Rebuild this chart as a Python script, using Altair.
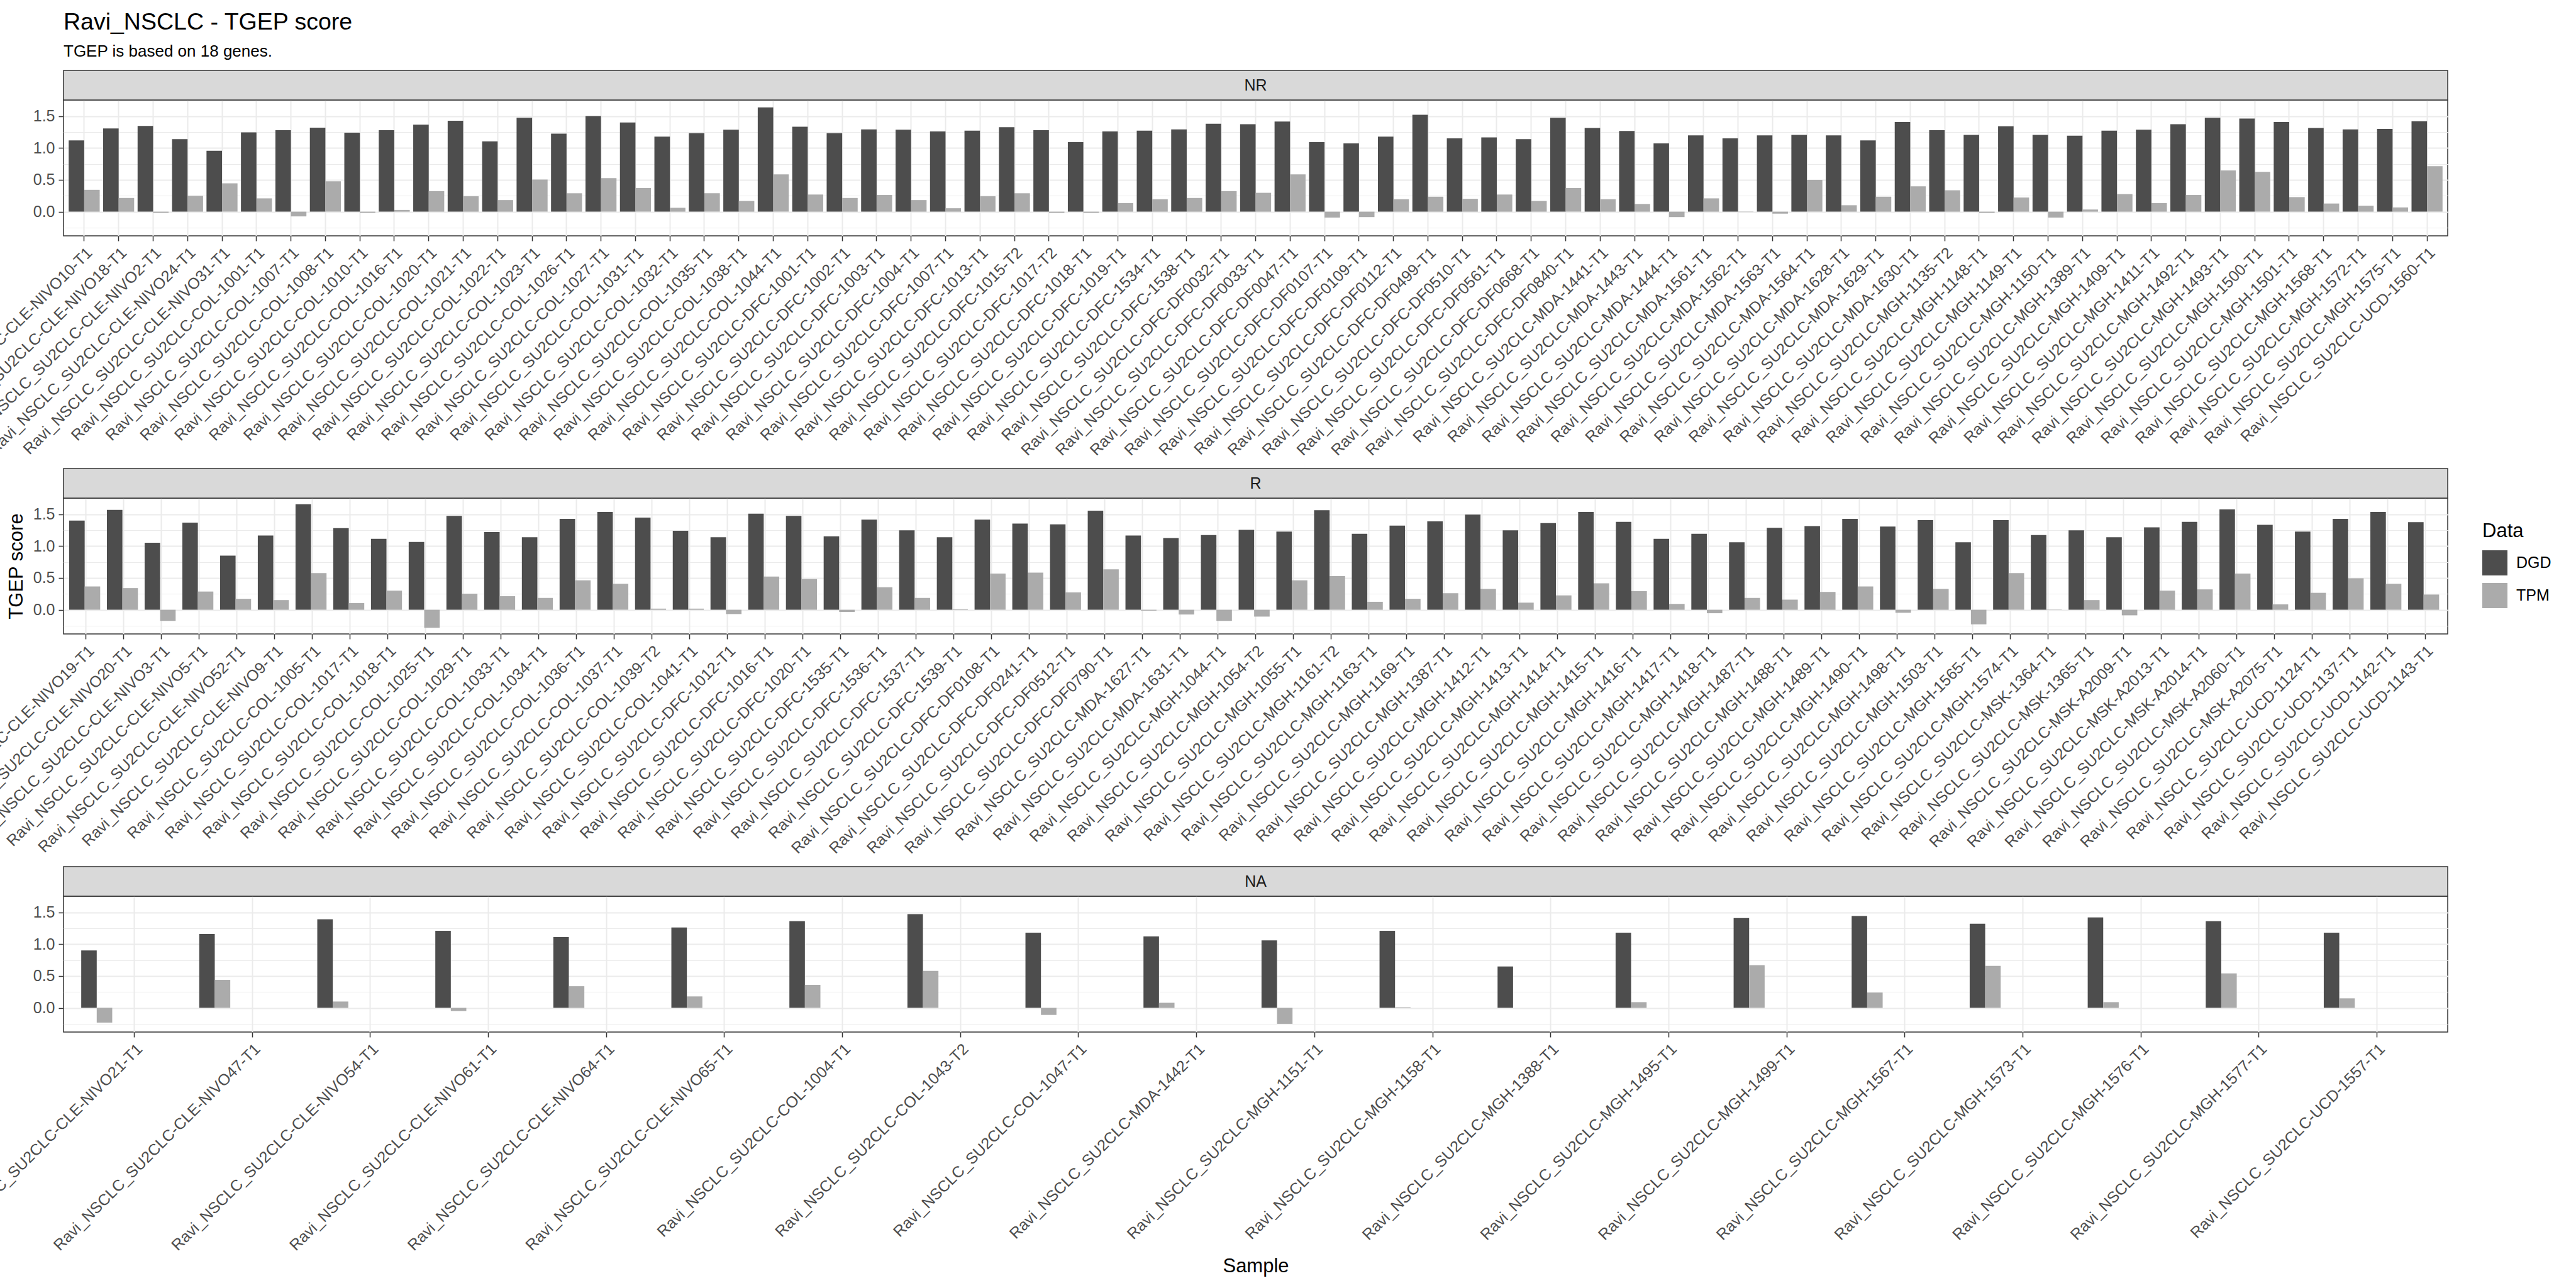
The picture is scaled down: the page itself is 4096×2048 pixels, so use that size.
import altair as alt
import pandas as pd

PREFIX = "Ravi_NSCLC_SU2CLC-"

# ---------------- data ----------------
nr_ids = ["CLE-NIVO10-T1", "CLE-NIVO18-T1", "CLE-NIVO2-T1", "CLE-NIVO24-T1", "CLE-NIVO31-T1",
          "COL-1001-T1", "COL-1007-T1", "COL-1008-T1", "COL-1010-T1", "COL-1016-T1", "COL-1020-T1",
          "COL-1021-T1", "COL-1022-T1", "COL-1023-T1", "COL-1026-T1", "COL-1027-T1", "COL-1031-T1",
          "COL-1032-T1", "COL-1035-T1", "COL-1038-T1", "COL-1044-T1", "DFC-1001-T1", "DFC-1002-T1",
          "DFC-1003-T1", "DFC-1004-T1", "DFC-1007-T1", "DFC-1013-T1", "DFC-1015-T2", "DFC-1017-T2",
          "DFC-1018-T1", "DFC-1019-T1", "DFC-1534-T1", "DFC-1538-T1", "DFC-DF0032-T1", "DFC-DF0033-T1",
          "DFC-DF0047-T1", "DFC-DF0107-T1", "DFC-DF0109-T1", "DFC-DF0112-T1", "DFC-DF0499-T1",
          "DFC-DF0510-T1", "DFC-DF0561-T1", "DFC-DF0668-T1", "DFC-DF0840-T1", "MDA-1441-T1",
          "MDA-1443-T1", "MDA-1444-T1", "MDA-1561-T1", "MDA-1562-T1", "MDA-1563-T1", "MDA-1564-T1",
          "MDA-1628-T1", "MDA-1629-T1", "MDA-1630-T1", "MGH-1135-T2", "MGH-1148-T1", "MGH-1149-T1",
          "MGH-1150-T1", "MGH-1389-T1", "MGH-1409-T1", "MGH-1411-T1", "MGH-1492-T1", "MGH-1493-T1",
          "MGH-1500-T1", "MGH-1501-T1", "MGH-1568-T1", "MGH-1572-T1", "MGH-1575-T1", "UCD-1560-T1"]
nr_dgd = [1.117, 1.305, 1.345, 1.137, 0.955, 1.244, 1.278, 1.318, 1.238, 1.278, 1.365, 1.426,
          1.103, 1.473, 1.224, 1.500, 1.399, 1.177, 1.231, 1.285, 1.635, 1.332, 1.231, 1.291,
          1.285, 1.258, 1.271, 1.325, 1.278, 1.090, 1.258, 1.271, 1.291, 1.379, 1.372, 1.413,
          1.090, 1.070, 1.177, 1.520, 1.150, 1.164, 1.137, 1.473, 1.312, 1.265, 1.070, 1.197,
          1.150, 1.197, 1.204, 1.197, 1.117, 1.406, 1.278, 1.204, 1.339, 1.204, 1.191, 1.271,
          1.285, 1.372, 1.473, 1.460, 1.406, 1.312, 1.291, 1.298, 1.419]
nr_tpm = [0.343, 0.215, -0.018, 0.249, 0.444, 0.209, -0.074, 0.478, -0.018, 0.027, 0.323, 0.242,
          0.182, 0.504, 0.289, 0.525, 0.370, 0.061, 0.289, 0.168, 0.585, 0.269, 0.215, 0.262,
          0.182, 0.054, 0.242, 0.289, -0.018, -0.018, 0.135, 0.195, 0.215, 0.323, 0.296, 0.585,
          -0.092, -0.085, 0.195, 0.235, 0.202, 0.269, 0.168, 0.370, 0.195, 0.121, -0.085, 0.209,
          -0.005, -0.031, 0.498, 0.101, 0.235, 0.397, 0.336, -0.018, 0.222, -0.092, 0.034, 0.276,
          0.135, 0.262, 0.646, 0.626, 0.229, 0.128, 0.094, 0.067, 0.713]

r_ids = ["CLE-NIVO19-T1", "CLE-NIVO20-T1", "CLE-NIVO3-T1", "CLE-NIVO5-T1", "CLE-NIVO52-T1",
         "CLE-NIVO9-T1", "COL-1005-T1", "COL-1017-T1", "COL-1018-T1", "COL-1025-T1", "COL-1029-T1",
         "COL-1033-T1", "COL-1034-T1", "COL-1036-T1", "COL-1037-T1", "COL-1039-T2", "COL-1041-T1",
         "DFC-1012-T1", "DFC-1016-T1", "DFC-1020-T1", "DFC-1535-T1", "DFC-1536-T1", "DFC-1537-T1",
         "DFC-1539-T1", "DFC-DF0108-T1", "DFC-DF0241-T1", "DFC-DF0512-T1", "DFC-DF0790-T1",
         "MDA-1627-T1", "MDA-1631-T1", "MGH-1044-T1", "MGH-1054-T2", "MGH-1055-T1", "MGH-1161-T2",
         "MGH-1163-T1", "MGH-1169-T1", "MGH-1387-T1", "MGH-1412-T1", "MGH-1413-T1", "MGH-1414-T1",
         "MGH-1415-T1", "MGH-1416-T1", "MGH-1417-T1", "MGH-1418-T1", "MGH-1487-T1", "MGH-1488-T1",
         "MGH-1489-T1", "MGH-1490-T1", "MGH-1498-T1", "MGH-1503-T1", "MGH-1565-T1", "MGH-1574-T1",
         "MSK-1364-T1", "MSK-1365-T1", "MSK-A2009-T1", "MSK-A2013-T1", "MSK-A2014-T1",
         "MSK-A2060-T1", "MSK-A2075-T1", "UCD-1124-T1", "UCD-1137-T1", "UCD-1142-T1", "UCD-1143-T1"]
r_dgd = [1.400, 1.568, 1.051, 1.367, 0.850, 1.166, 1.655, 1.280, 1.112, 1.065, 1.474, 1.219,
         1.139, 1.427, 1.535, 1.447, 1.239, 1.139, 1.508, 1.474, 1.152, 1.414, 1.246, 1.139,
         1.414, 1.353, 1.340, 1.555, 1.166, 1.125, 1.172, 1.253, 1.226, 1.562, 1.192, 1.320,
         1.387, 1.494, 1.246, 1.360, 1.535, 1.380, 1.112, 1.192, 1.058, 1.286, 1.313, 1.427,
         1.306, 1.407, 1.058, 1.407, 1.172, 1.246, 1.139, 1.293, 1.380, 1.575, 1.333, 1.226,
         1.427, 1.535, 1.374]
r_tpm = [0.367, 0.340, -0.174, 0.286, 0.172, 0.152, 0.575, 0.105, 0.300, -0.282, 0.253, 0.213,
         0.186, 0.461, 0.407, 0.018, 0.018, -0.067, 0.521, 0.481, -0.034, 0.353, 0.186, 0.011,
         0.568, 0.582, 0.273, 0.635, -0.013, -0.074, -0.174, -0.107, 0.461, 0.528, 0.125, 0.172,
         0.260, 0.327, 0.112, 0.226, 0.414, 0.293, 0.092, -0.054, 0.186, 0.159, 0.280, 0.367,
         -0.047, 0.327, -0.228, 0.575, 0.005, 0.152, -0.087, 0.300, 0.320, 0.568, 0.085, 0.266,
         0.494, 0.407, 0.239]

na_ids = ["CLE-NIVO21-T1", "CLE-NIVO47-T1", "CLE-NIVO54-T1", "CLE-NIVO61-T1", "CLE-NIVO64-T1",
          "CLE-NIVO65-T1", "COL-1004-T1", "COL-1043-T2", "COL-1047-T1", "MDA-1442-T1",
          "MGH-1151-T1", "MGH-1158-T1", "MGH-1388-T1", "MGH-1495-T1", "MGH-1499-T1",
          "MGH-1567-T1", "MGH-1573-T1", "MGH-1576-T1", "MGH-1577-T1", "UCD-1557-T1"]
na_dgd = [0.90, 1.16, 1.39, 1.21, 1.11, 1.26, 1.36, 1.47, 1.18, 1.12, 1.06, 1.21, 0.65, 1.18,
          1.41, 1.44, 1.32, 1.42, 1.36, 1.18]
na_tpm = [-0.23, 0.44, 0.10, -0.05, 0.34, 0.18, 0.36, 0.58, -0.11, 0.08, -0.25, 0.01, 0.0, 0.09,
          0.67, 0.24, 0.66, 0.09, 0.54, 0.15]

panels = [("NR", nr_ids, nr_dgd, nr_tpm),
          ("R", r_ids, r_dgd, r_tpm),
          ("NA", na_ids, na_dgd, na_tpm)]
series = ["DGD", "TPM"]
series_colors = ["#4D4D4D", "#ABABAB"]

# ---------------- layout (output pixels) ----------------
W = 3791
H = 216
SH = 47
FONT = "Liberation Sans"

all_vals = nr_dgd + nr_tpm + r_dgd + r_tpm + na_dgd + na_tpm
lo, hi = min(all_vals), max(all_vals)
ext = (hi - lo) * 0.05
y_domain = [lo - ext, hi + ext]
y_values = [-0.25, 0, 0.25, 0.5, 0.75, 1, 1.25, 1.5]
minor_test = "(datum.value * 2) % 1 != 0"

legend = alt.Legend(title="Data", orient="none", legendX=3846, legendY=671,
                    symbolType="square", symbolSize=1600, symbolStrokeWidth=0,
                    titleFontSize=31, labelFontSize=25, titleFontWeight="normal",
                    titleColor="#000000", labelColor="#000000", labelOffset=14,
                    rowPadding=12, titlePadding=14, titleFont=FONT, labelFont=FONT)


def make_panel(name, ids, dgd, tpm, show_ytitle, show_xtitle):
    samples = [PREFIX + s for s in ids]
    rows = []
    for s, a, b in zip(samples, dgd, tpm):
        rows.append({"Sample": s, "Data": "DGD", "TGEP score": a})
        rows.append({"Sample": s, "Data": "TPM", "TGEP score": b})
    df = pd.DataFrame(rows)

    x_axis_kw = dict(labelAngle=-45, labelAlign="right", labelBaseline="top",
                     labelPadding=6, labelLimit=2000, labelOverlap=False,
                     labelFontSize=25, labelColor="#4D4D4D", labelFont=FONT,
                     tickSize=8, tickColor="#333333", tickWidth=1.5,
                     bandPosition=0.5, domain=False,
                     grid=True, gridColor="#EBEBEB", gridWidth=2,
                     titleFontSize=31, titleFont=FONT, titleColor="#000000",
                     titleFontWeight="normal")
    if show_xtitle:
        x_axis = alt.Axis(title="Sample", titleY=372, titleBaseline="middle", **x_axis_kw)
    else:
        x_axis = alt.Axis(title=None, **x_axis_kw)

    bars = alt.Chart(df).mark_bar().encode(
        x=alt.X("Sample:N", sort=samples,
                scale=alt.Scale(paddingInner=0.1, paddingOuter=0.15),
                axis=x_axis),
        xOffset=alt.XOffset("Data:N", sort=series,
                            scale=alt.Scale(paddingInner=0, paddingOuter=0)),
        y=alt.Y("TGEP score:Q", stack=None,
                scale=alt.Scale(domain=y_domain, nice=False, zero=False),
                axis=alt.Axis(title="TGEP score" if show_ytitle else None,
                              values=y_values,
                              labelExpr="(datum.value * 2) % 1 == 0 ? format(datum.value, '.1f') : ''",
                              labelFontSize=25, labelColor="#4D4D4D", labelFont=FONT,
                              labelPadding=6, tickSize=8, tickColor="#333333", tickWidth=1.5,
                              tickOpacity={"condition": {"test": minor_test, "value": 0}, "value": 1},
                              domain=False, grid=True, gridColor="#EBEBEB",
                              gridWidth={"condition": {"test": minor_test, "value": 1}, "value": 2},
                              titleFontSize=31, titleFont=FONT, titleColor="#000000",
                              titleFontWeight="normal", titlePadding=10)),
        color=alt.Color("Data:N", sort=series,
                        scale=alt.Scale(domain=series, range=series_colors),
                        legend=legend),
    )

    strip_df = pd.DataFrame({"label": [name]})
    strip_bg = alt.Chart(strip_df).mark_rect(
        fill="#D9D9D9", stroke="#333333", strokeWidth=1.5
    ).encode(x=alt.value(0), x2=alt.value(W), y=alt.value(-SH), y2=alt.value(0))
    strip_txt = alt.Chart(strip_df).mark_text(
        font=FONT, fontSize=25, color="#1A1A1A", baseline="middle", align="center"
    ).encode(x=alt.value(W / 2), y=alt.value(-SH / 2), text="label:N")

    return alt.layer(bars, strip_bg, strip_txt).properties(width=W, height=H)


charts = []
for i, (name, ids, dgd, tpm) in enumerate(panels):
    charts.append(make_panel(name, ids, dgd, tpm, show_ytitle=(i == 1), show_xtitle=(i == 2)))

chart = alt.vconcat(*charts, spacing=417, bounds="flush").resolve_scale(
    x="independent", y="shared", color="shared"
).properties(
    title=alt.TitleParams(text="Ravi_NSCLC - TGEP score", subtitle="TGEP is based on 18 genes.",
                          anchor="start", frame="group", font=FONT, subtitleFont=FONT,
                          fontSize=37.5, subtitleFontSize=26, fontWeight="normal",
                          color="#000000", subtitleColor="#000000",
                          subtitlePadding=14, offset=16),
    padding={"left": -188, "top": 17, "right": 5, "bottom": 5},
    background="#FFFFFF",
).configure_view(stroke="#333333", strokeWidth=1.5)

chart.save("out.html", embed_options={"renderer": "svg", "actions": False})
